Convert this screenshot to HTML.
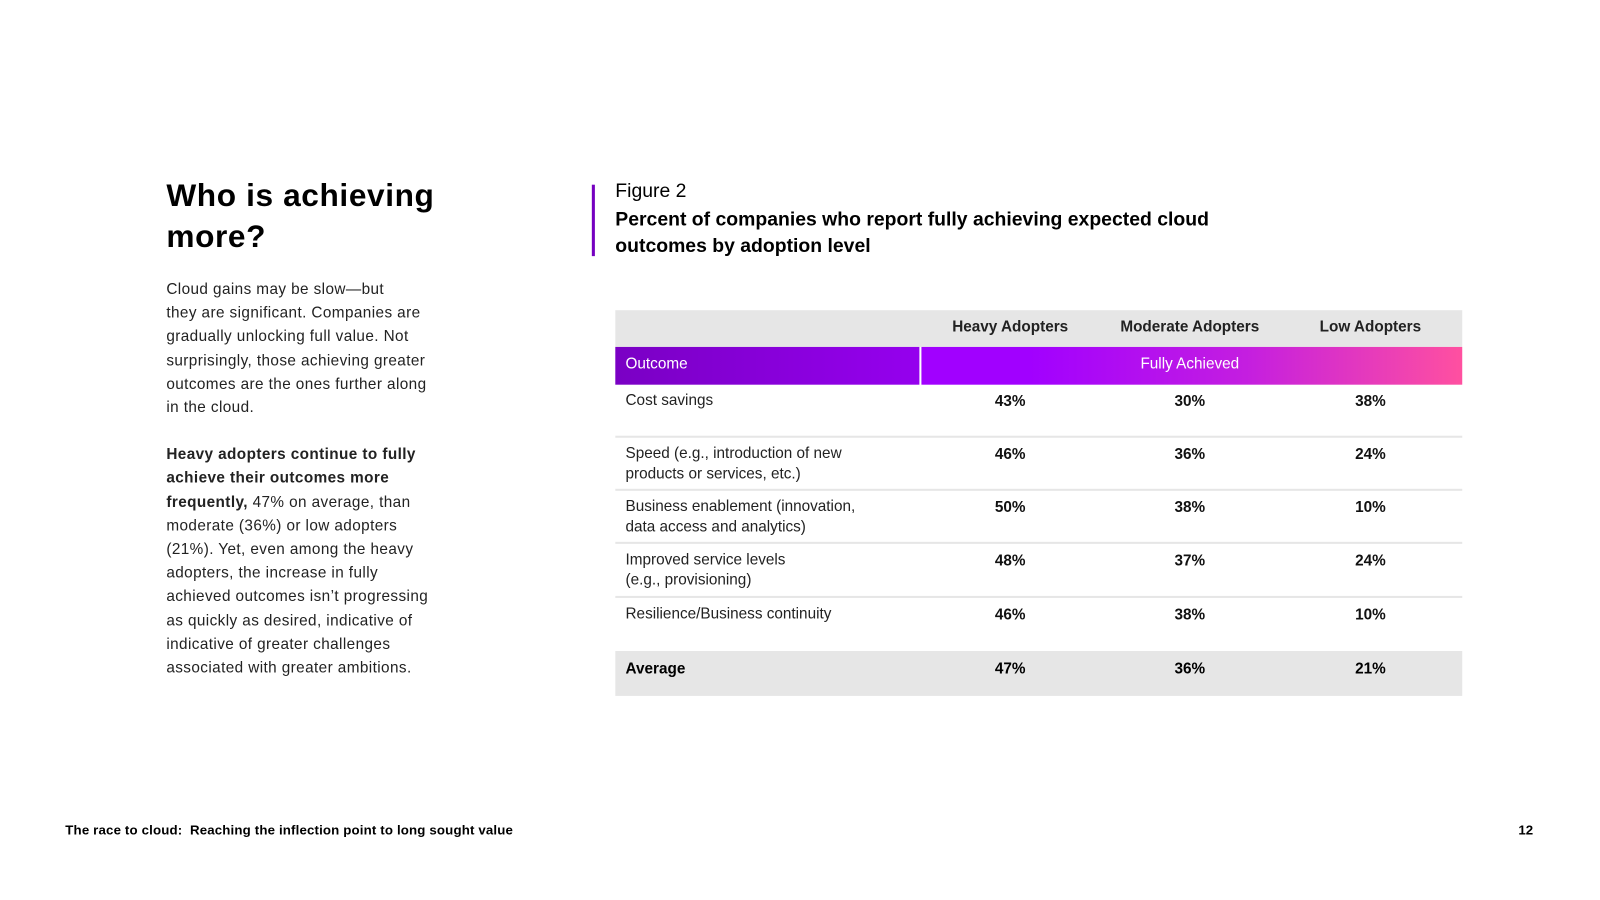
<!DOCTYPE html>
<html><head><meta charset="utf-8">
<style>
*{margin:0;padding:0;box-sizing:border-box}
body{width:1600px;height:900px;background:#fff;font-family:"Liberation Sans",sans-serif;color:#000;position:relative;overflow:hidden}
#wrap{position:absolute;left:0;top:0;width:1568px;height:882px;transform:scale(1.0204);transform-origin:0 0}
.abs{position:absolute}
h1{position:absolute;left:163px;top:172px;font-size:31px;line-height:40px;font-weight:bold;letter-spacing:0.6px}
.body{position:absolute;left:163px;top:272px;width:300px;font-size:15px;line-height:23.2px;color:#222;letter-spacing:0.4px}
.cell{position:absolute;font-size:15px;line-height:20px}
</style></head><body>
<div id="wrap">
<h1>Who is achieving<br>more?</h1>
<div class="body">
<p>Cloud gains may be slow—but<br>they are significant. Companies are<br>gradually unlocking full value. Not<br>surprisingly, those achieving greater<br>outcomes are the ones further along<br>in the cloud.</p>
<p style="margin-top:23px"><b>Heavy adopters continue to fully<br>achieve their outcomes more<br>frequently,</b> 47% on average, than<br>moderate (36%) or low adopters<br>(21%). Yet, even among the heavy<br>adopters, the increase in fully<br>achieved outcomes isn’t progressing<br>as quickly as desired, indicative of<br>indicative of greater challenges<br>associated with greater ambitions.</p>
</div>
<div class="abs" style="left:580px;top:181px;width:3px;height:70px;background:#7500c0"></div>
<div class="abs" style="left:603px;top:177px;font-size:19px">Figure 2</div>
<div class="abs" style="left:603px;top:203px;font-size:19px;line-height:26px;font-weight:bold;width:640px">Percent of companies who report fully achieving expected cloud outcomes by adoption level</div>

<div id="tbl">
<div class="abs" style="left:603px;top:304px;width:830px;height:36px;background:#e6e6e6"></div>
<div class="abs" style="left:603px;top:340px;width:298px;height:37px;background:linear-gradient(90deg,#7a00c4,#9500ee)"></div>
<div class="abs" style="left:903px;top:340px;width:530px;height:37px;background:linear-gradient(90deg,#a100ff 20%,#c41ee0 60%,#ff50a0)"></div>
<div class="cell" style="left:613px;top:347px;color:#fff">Outcome</div>
<div class="cell" style="left:1078px;top:347px;width:176px;text-align:center;color:#fff">Fully Achieved</div>
</div>
<div class="abs" style="left:64px;top:806px;font-size:13px;font-weight:bold;letter-spacing:0.15px">The race to cloud:&nbsp; Reaching the inflection point to long sought value</div>
<div class="abs" style="left:1488px;top:806px;font-size:13px;font-weight:bold">12</div>
</div>
<script>
const columns=["Heavy Adopters","Moderate Adopters","Low Adopters"];
const outcomes=["Cost savings","Speed (e.g., introduction of new<br>products or services, etc.)","Business enablement (innovation,<br>data access and analytics)","Improved service levels<br>(e.g., provisioning)","Resilience/Business continuity"];
const heavy=[43,46,50,48,46];
const moderate=[30,36,38,37,38];
const low=[38,24,10,24,10];
const average=[47,36,21];
const t=document.getElementById('tbl');
const colX=[902,1078,1255];
function add(html,style,name){const d=document.createElement('div');d.className='cell';d.innerHTML=html;d.style.cssText=style;


t.appendChild(d);return d;}
columns.forEach((c,i)=>{
add(c,'left:'+colX[i]+'px;top:311px;width:176px;text-align:center;font-weight:bold;color:#222','column-header');
});
const rowTop=[377,429,481,533,586];
const series=[heavy,moderate,low];
outcomes.forEach((o,r)=>{
const y=rowTop[r];
if(r>0){const s=document.createElement('div');s.className='abs';s.style.cssText='left:603px;top:'+(y-2)+'px;width:830px;height:2px;background:#e6e6e6';


t.appendChild(s);}
add(o,'left:613px;top:'+(y+6)+'px;color:#222','outcome-label');
series.forEach((v,i)=>{add(v[r]+'%','left:'+colX[i]+'px;top:'+(y+7)+'px;width:176px;text-align:center;font-weight:bold;color:#111','value-cell');});
});
const av=document.createElement('div');av.className='abs';av.style.cssText='left:603px;top:638px;width:830px;height:44px;background:#e6e6e6';


t.appendChild(av);
add('Average','left:613px;top:646px;font-weight:bold','average-label');
average.forEach((v,i)=>{add(v+'%','left:'+colX[i]+'px;top:646px;width:176px;text-align:center;font-weight:bold','average-value');});
</script>
</body></html>
